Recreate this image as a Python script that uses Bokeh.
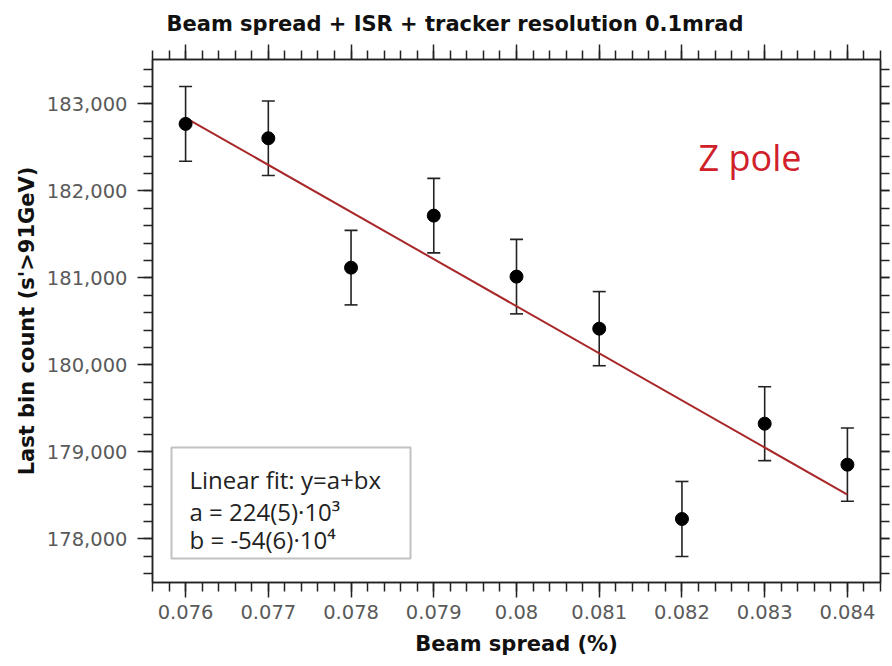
from bokeh.plotting import figure
from bokeh.models import (LinearAxis, SingleIntervalTicker, NumeralTickFormatter,
                          CustomJSTickFormatter, Whisker, TeeHead, ColumnDataSource,
                          Label, BoxAnnotation, Range1d)
from bokeh.embed import file_html
from bokeh.resources import INLINE

# ---- data ----
beam_spread = [0.076, 0.077, 0.078, 0.079, 0.080, 0.081, 0.082, 0.083, 0.084]
counts = [182770, 182605, 181118, 181716, 181015, 180417, 178230, 179325, 178854]
errors = [430, 428, 428, 428, 428, 426, 431, 425, 421]
fit_x = [0.076, 0.084]
fit_y = [182840, 178510]
fit_lines = ["Linear fit: y=a+bx", "a = 224(5)·10³", "b = -54(6)·10⁴"]
title_text = "Beam spread + ISR + tracker resolution 0.1mrad"
x_label = "Beam spread (%)"
y_label = "Last bin count (s'>91GeV)"
note_text = "Z pole"

src = ColumnDataSource(dict(
    x=beam_spread, y=counts,
    upper=[c + e for c, e in zip(counts, errors)],
    lower=[c - e for c, e in zip(counts, errors)],
))

p = figure(width=892, height=666, output_backend="svg", toolbar_location=None,
           x_range=Range1d(0.0756, 0.0844), y_range=Range1d(177500, 183510),
           min_border_left=152, min_border_right=12, min_border_top=59,
           min_border_bottom=84, background_fill_color="white",
           border_fill_color="white")
p.grid.visible = False
p.outline_line_color = "#222222"
p.outline_line_width = 1.5

p.title.text = title_text
p.title.text_font = "DejaVu Sans"
p.title.text_font_style = "bold"
p.title.text_font_size = "21px"
p.title.text_color = "#111111"
p.title.align = "left"
p.title.offset = 14
p.title.standoff = 17

xt = SingleIntervalTicker(interval=0.001, num_minor_ticks=5)
yt = SingleIntervalTicker(interval=1000, num_minor_ticks=5)
xfmt = CustomJSTickFormatter(code="return String(parseFloat(tick.toFixed(4)));")
blank = CustomJSTickFormatter(code="return '';")


def style(ax, major_out, minor_out):
    ax.axis_line_color = "#222222"
    ax.axis_line_width = 1.5
    ax.major_tick_line_color = "#222222"
    ax.major_tick_line_width = 1.5
    ax.minor_tick_line_color = "#222222"
    ax.minor_tick_line_width = 1.5
    ax.major_tick_in = 0
    ax.minor_tick_in = 0
    ax.major_tick_out = major_out
    ax.minor_tick_out = minor_out
    ax.major_label_text_font = "DejaVu Sans"
    ax.major_label_text_font_size = "19.5px"
    ax.major_label_text_color = "#5a5a5a"
    ax.axis_label_text_font = "DejaVu Sans"
    ax.axis_label_text_font_style = "bold"
    ax.axis_label_text_font_size = "21px"
    ax.axis_label_text_color = "#111111"


xa = p.xaxis[0]
xa.ticker = xt
xa.formatter = xfmt
xa.axis_label = x_label
style(xa, 15, 9)
xa.major_label_standoff = 7
xa.axis_label_standoff = 10

ya = p.yaxis[0]
ya.ticker = yt
ya.formatter = NumeralTickFormatter(format="0,0")
ya.axis_label = y_label
style(ya, 15, 9)
ya.major_label_standoff = 10
ya.axis_label_standoff = 5

top = LinearAxis(ticker=xt, formatter=blank)
style(top, 15, 9)
top.major_label_standoff = 0
p.add_layout(top, "above")

right = LinearAxis(ticker=yt, formatter=blank)
style(right, 9, 9)
right.major_label_standoff = 0
p.add_layout(right, "right")

# fit line
p.line(fit_x, fit_y, line_color="#a8282a", line_width=2)

# error bars
w = Whisker(source=src, base="x", upper="upper", lower="lower",
            line_color="#222222", line_width=1.6,
            upper_head=TeeHead(size=13, line_color="#222222", line_width=1.6),
            lower_head=TeeHead(size=13, line_color="#222222", line_width=1.6))
p.add_layout(w)

p.scatter("x", "y", source=src, size=13, color="black")

# fit box
box = BoxAnnotation(left=19, right=258, top=135, bottom=24,
                    left_units="screen", right_units="screen",
                    top_units="screen", bottom_units="screen",
                    fill_color="white", fill_alpha=1.0,
                    line_color="#333333", line_width=2)
p.add_layout(box)
for i, t in enumerate(fit_lines):
    p.add_layout(Label(x=37, y=[103, 71, 43][i], x_units="screen", y_units="screen",
                       text=t, text_font="Open Sans", text_font_size="24px",
                       text_color="#222222", text_baseline="alphabetic"))

p.add_layout(Label(x=546, y=425, x_units="screen", y_units="screen",
                   text=note_text, text_font="Open Sans", text_font_size="36px",
                   text_color="#d0202a", text_baseline="alphabetic"))

open("out.html", "w").write(file_html(p, INLINE))
